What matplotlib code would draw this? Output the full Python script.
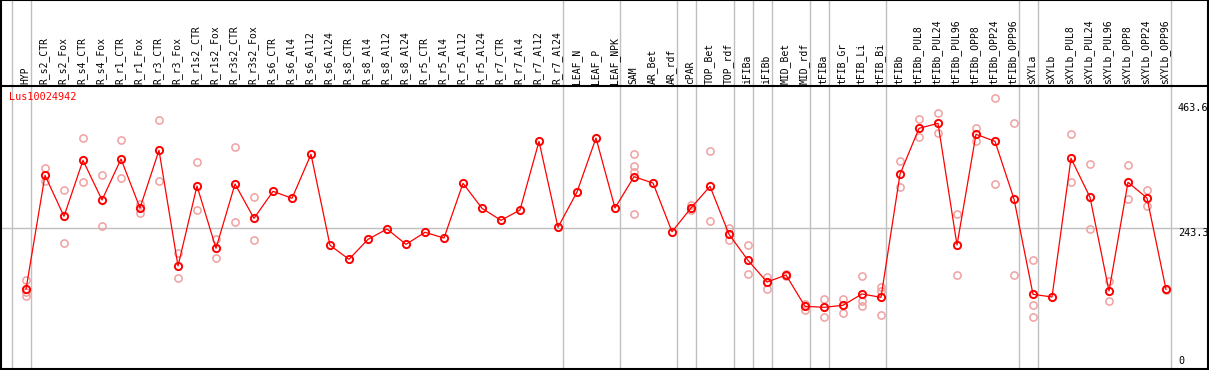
import numpy as np
import matplotlib
matplotlib.use('Agg')
import matplotlib.pyplot as plt

######## Datos
muestras = ['HYP', 'R_s2_CTR', 'R_s2_Fox', 'R_s4_CTR', 'R_s4_Fox', 'R_r1_CTR', 'R_r1_Fox',
            'R_r3_CTR', 'R_r3_Fox', 'R_r1s2_CTR', 'R_r1s2_Fox', 'R_r3s2_CTR', 'R_r3s2_Fox',
            'R_s6_CTR', 'R_s6_Al4', 'R_s6_Al12', 'R_s6_Al24', 'R_s8_CTR', 'R_s8_Al4',
            'R_s8_Al12', 'R_s8_Al24', 'R_r5_CTR', 'R_r5_Al4', 'R_r5_Al12', 'R_r5_Al24',
            'R_r7_CTR', 'R_r7_Al4', 'R_r7_Al12', 'R_r7_Al24', 'LEAF_N', 'LEAF_P', 'LEAF_NPK',
            'SAM', 'AR_Bet', 'AR_rdf', 'cPAR', 'TOP_Bet', 'TOP_rdf', 'iFIBa', 'iFIBb',
            'MID_Bet', 'MID_rdf', 'tFIBa', 'tFIB_Gr', 'tFIB_Li', 'tFIB_Bi', 'tFIBb',
            'tFIBb_PUL8', 'tFIBb_PUL24', 'tFIBb_PUL96', 'tFIBb_OPP8', 'tFIBb_OPP24',
            'tFIBb_OPP96', 'sXYLa', 'sXYLb', 'sXYLb_PUL8', 'sXYLb_PUL24', 'sXYLb_PUL96',
            'sXYLb_OPP8', 'sXYLb_OPP24', 'sXYLb_OPP96']

media = [135.2, 336.0, 263.8, 362.4, 292.5, 364.7, 278.4, 380.1, 176.2, 317.2, 207.4,
         320.7, 260.2, 307.8, 295.5, 373.0, 212.7, 188.0, 223.2, 241.4, 214.4, 235.6,
         225.5, 321.9, 277.9, 256.7, 274.9, 395.9, 244.4, 306.6, 401.7, 278.4, 333.5,
         322.4, 236.6, 278.4, 316.6, 232.1, 186.2, 148.0, 160.3, 105.2, 103.4, 107.0,
         126.9, 121.0, 337.8, 418.8, 427.6, 213.2, 408.3, 395.9, 294.3, 126.3, 121.6,
         366.0, 297.3, 132.2, 323.7, 296.0, 135.1]

# replicas (indice de muestra, valor)
replicas = {
    0: [151.5, 130.4, 123.3], 1: [348.4, 326.0], 2: [309.6, 216.2], 3: [401.2, 323.7],
    4: [336.0, 246.2], 5: [397.7, 330.7], 6: [284.9, 270.1], 7: [434.3, 326.0],
    8: [199.1, 154.5], 9: [358.9, 274.3], 10: [223.8, 189.8], 11: [385.4, 253.2],
    12: [297.2, 221.5], 32: [373.5, 352.4, 341.8, 267.3], 35: [283.2, 274.9],
    36: [378.3, 255.0], 37: [243.7, 221.5], 38: [213.2, 161.6], 39: [157.3, 136.2],
    40: [162.1, 158.6], 41: [109.2, 98.7], 42: [118.1, 86.9], 43: [118.1, 93.4],
    44: [158.1, 115.1, 105.2], 45: [139.7, 132.7, 89.3], 46: [360.7, 314.9],
    47: [434.7, 403.0], 48: [445.3, 410.0], 49: [267.3, 159.8], 50: [418.8, 396.5],
    51: [471.7, 320.2], 52: [427.6, 159.8], 53: [186.2, 107.0, 85.8],
    55: [408.3, 323.7], 56: [355.4, 240.9], 57: [149.8, 114.5], 58: [353.6, 293.7],
    59: [310.1, 282.4], 60: [133.9],
}

# separaciones de grupo (despues de la muestra k)
cortes = [-1, 0, 28, 31, 34, 35, 37, 38, 39, 41, 42, 45, 52, 53, 60]
marcas_y = [463.6, 243.3, 0]
gen = 'Lus10024942'

####### Escala en pixeles
W, H = 1209, 370
def vy(py):  # pixel -> valor
    return (366 - py) / 0.5675
def ix(px):  # pixel -> indice
    return (px - 26) / 19.0

fig = plt.figure(figsize=(W / 100, H / 100), dpi=100)
ax = fig.add_axes([1 / W, 1 / H, 1207 / W, 369 / H])
ax.set_xlim(ix(1), ix(1208))
ax.set_ylim(vy(369), vy(0))
ax.set_xticks([])
ax.set_yticks([])
for s in ax.spines.values():
    s.set_linewidth(1.5)
    s.set_color('black')

mono = 'DejaVu Sans Mono'

####### Lineas de fondo
for k in cortes:
    ax.axvline(k + 0.25, color='#c0c0c0', lw=1, zorder=1)
ax.axhline(243.3, color='#c0c0c0', lw=1, zorder=1)
ax.axhline(vy(85.5), color='black', lw=1.5, zorder=2)

####### Etiquetas
x = np.arange(len(muestras))
for i, m in enumerate(muestras):
    ax.text(i - 0.05, vy(83.5), m, rotation=90, ha='center', va='bottom',
            fontsize=7, family=mono, color='black')

ax.text(ix(9), vy(92), gen, ha='left', va='top', fontsize=7.3, family=mono, color='red')

for v in marcas_y:
    if v == 0:
        ax.text(ix(1178), v, '0', ha='left', va='bottom', fontsize=7.3, family=mono)
    else:
        ax.text(ix(1178), v, str(v), ha='left', va='top', fontsize=7.3, family=mono)

####### Replicas
for i, vals in replicas.items():
    ax.plot([i] * len(vals), vals, 'o', mfc='none', mec='#f0a0a0', mew=1.1, ms=5.2, zorder=3)

####### Media
ax.plot(x, media, '-', color='red', lw=0.9, zorder=4)
ax.plot(x, media, 'o', mfc='none', mec='red', mew=1.4, ms=5.2, zorder=5)

plt.savefig('out.png', dpi=100)
plt.close()
